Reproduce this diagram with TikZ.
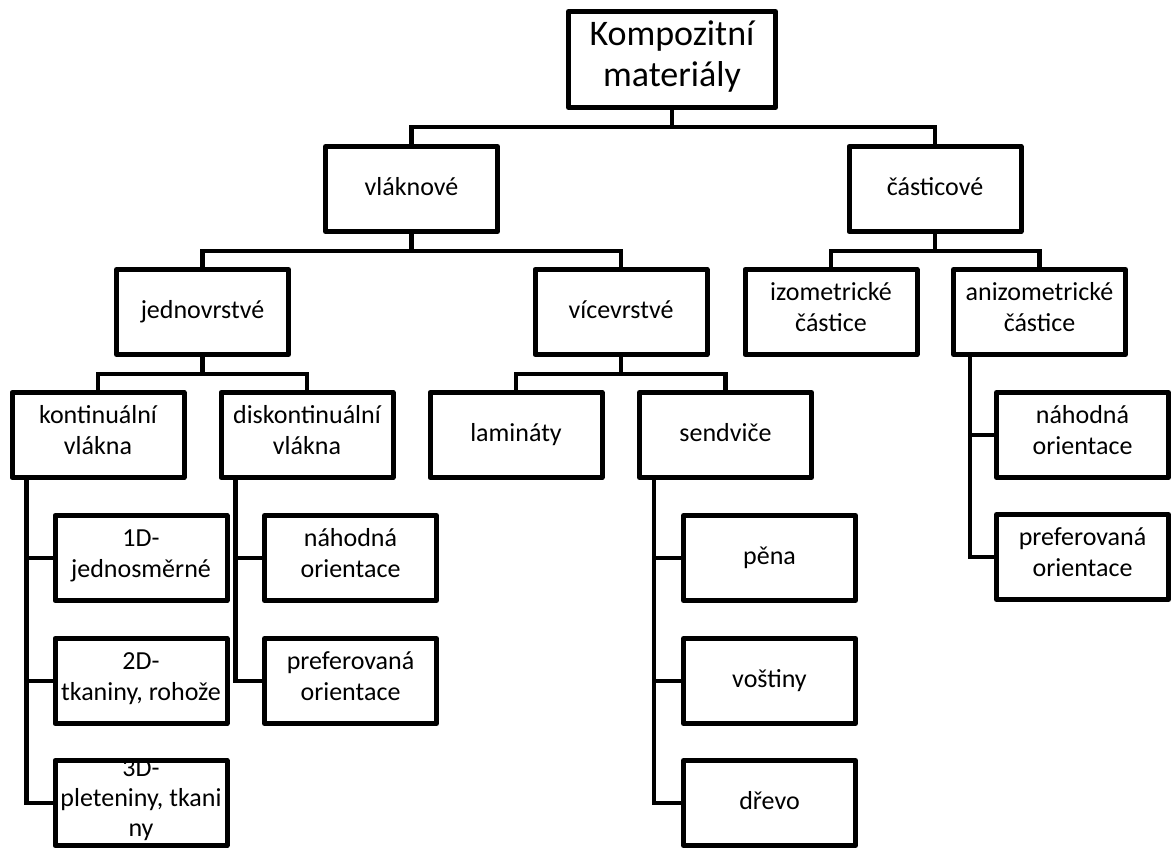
\documentclass[tikz,border=0pt]{standalone}
\usepackage{fontspec}
\setmainfont{Carlito}
\begin{document}
\begin{tikzpicture}[x=1pt,y=1pt]
			\tikzset{box/.style = {shape=rectangle,draw,line width=5pt,line join=round,minimum width=172pt,minimum height=85pt,inner sep=0pt,align=center,font=\fontsize{26}{31}\selectfont,execute at begin node=\strut,execute at end node=\strut}}
			
			\tikzset{link/.style = {draw,line width=4.5pt}}
			
			\useasboundingbox (0,0) rectangle (1172,-848);
			
			% boxes
			
			\node[box,minimum width=207pt,minimum height=96pt,font=\fontsize{36}{41}\selectfont] (root) at (672,-59.5) {Kompozitní\\materiály};
			
			\node[box] (vl) at (411.5,-189) {vláknové};
			
			\node[box] (ca) at (935,-189) {částicové};
			
			\node[box] (jv) at (202.5,-312) {jednovrstvé};
			
			\node[box] (vv) at (621,-312) {vícevrstvé};
			
			\node[box] (iz) at (831,-312) {izometrické\\částice};
			
			\node[box] (an) at (1039.5,-312) {anizometrické\\částice};
			
			\node[box] (kv) at (98,-435) {kontinuální\\vlákna};
			
			\node[box] (dk) at (307,-435) {diskontinuální\\vlákna};
			
			\node[box] (lam) at (516,-435) {lamináty};
			
			\node[box] (sv) at (725.5,-435) {sendviče};
			
			\node[box] (an1) at (1082.5,-435) {náhodná\\orientace};
			
			\node[box] (an2) at (1082.5,-557) {preferovaná\\orientace};
			
			\node[box] (kv1) at (141,-558) {1D-\\jednosměrné};
			
			\node[box] (kv2) at (141,-681) {2D-\\tkaniny, rohože};
			
			\node[box,execute at begin node={},execute at end node={}] (kv3) at (141,-803) {};
			\node[font=\fontsize{26}{30}\selectfont,align=center,inner sep=0pt,execute at begin node=\strut,execute at end node=\strut] at (kv3) {3D-\\pleteniny, tkani\\ny};
			
			\node[box] (dk1) at (350.5,-558) {náhodná\\orientace};
			
			\node[box] (dk2) at (350.5,-681) {preferovaná\\orientace};
			
			\node[box] (sv1) at (769.5,-558) {pěna};
			
			\node[box] (sv2) at (769.5,-681) {voštiny};
			
			\node[box] (sv3) at (769.5,-803) {dřevo};
			
			%connectors
			
			\path (root.south) ++(0,-17) coordinate (b0);
			\path (vl.south) ++(0,-17) coordinate (b1);
			\path (ca.south) ++(0,-17) coordinate (b2);
			\path (jv.south) ++(0,-17) coordinate (b3);
			\path (vv.south) ++(0,-17) coordinate (b4);
			
			\draw[link] (root.south) -- (b0) -| (vl.north);
			\draw[link] (b0) -| (ca.north);
			\draw[link] (vl.south) -- (b1) -| (jv.north);
			\draw[link] (b1) -| (vv.north);
			\draw[link] (ca.south) -- (b2) -| (iz.north);
			\draw[link] (b2) -| (an.north);
			\draw[link] (jv.south) -- (b3) -| (kv.north);
			\draw[link] (b3) -| (dk.north);
			\draw[link] (vv.south) -- (b4) -| (lam.north);
			\draw[link] (b4) -| (sv.north);
			
			\begin{scope}[every path/.style={link}]
			\draw ([xshift=17pt]kv.south west) |- (kv3.west);
			\draw ([xshift=17pt]kv.south west) |- (kv1.west);
			\draw ([xshift=17pt]kv.south west) |- (kv2.west);
			\draw ([xshift=17pt]dk.south west) |- (dk2.west);
			\draw ([xshift=17pt]dk.south west) |- (dk1.west);
			\draw ([xshift=17pt]sv.south west) |- (sv3.west);
			\draw ([xshift=17pt]sv.south west) |- (sv1.west);
			\draw ([xshift=17pt]sv.south west) |- (sv2.west);
			\draw ([xshift=19pt]an.south west) |- (an2.west);
			\draw ([xshift=19pt]an.south west) |- (an1.west);
			\end{scope}
			\end{tikzpicture}
\end{document}
